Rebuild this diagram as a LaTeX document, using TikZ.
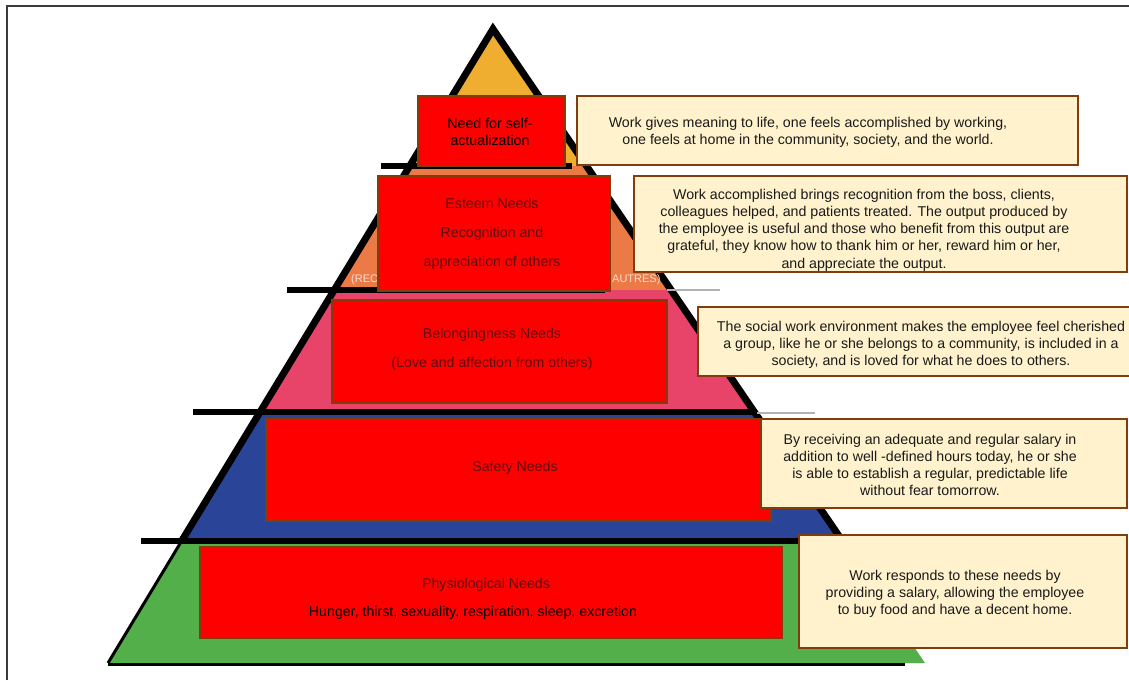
\documentclass[tikz,border=0pt]{standalone}
\usepackage{fontspec}
\setmainfont{Liberation Sans}
\definecolor{pyel}{RGB}{240,174,48}
\definecolor{porg}{RGB}{236,122,70}
\definecolor{ppink}{RGB}{232,67,104}
\definecolor{pblue}{RGB}{42,69,152}
\definecolor{pgreen}{RGB}{83,175,74}
\definecolor{pred}{RGB}{255,0,0}
\definecolor{brn}{RGB}{132,60,12}
\definecolor{cream}{RGB}{255,242,204}
\definecolor{dred}{RGB}{95,14,14}
\definecolor{frm}{RGB}{60,60,60}
\definecolor{fragc}{RGB}{250,218,205}
\begin{document}
\begin{tikzpicture}[x=1pt,y=-1pt,
  redbox/.style={draw=brn, line width=1.6pt, fill=pred, inner sep=0pt},
  creambox/.style={draw=brn, line width=1.8pt, fill=cream, inner sep=0pt},
  ctext/.style={font=\fontsize{14.2}{17.2}\selectfont, align=center, inner sep=0pt, text=black!90},
  rtext/.style={font=\fontsize{14.2}{16.5}\selectfont, align=center, inner sep=0pt, text=black},
  dtext/.style={font=\fontsize{14.2}{29}\selectfont, align=center, inner sep=0pt, text=dred},
  frag/.style={font=\fontsize{11}{11}\selectfont, inner sep=0pt, text=fragc, anchor=base west},
  divider/.style={line width=6.5pt},
  faint/.style={line width=1.5pt, draw=black!30},
  ]
\useasboundingbox (0,0) rectangle (1129,680);
\clip (0,0) rectangle (1129,680);
\fill[white] (0,0) rectangle (1129,680);
% frame
\coordinate (fTL) at (7,6);
\coordinate (fTR) at (1129,6);
\coordinate (fBL) at (7,680);
\draw[line width=1.5pt, draw=frm] (fBL) -- (fTL) -- (fTR);
% pyramid
\coordinate (apex) at (493,29);
\coordinate (pL) at (108,663);
\coordinate (pR) at (925,663);
\coordinate (lm) at (181.6,541);
\coordinate (rm) at (842.4,541);
\begin{scope}
  \clip (apex) -- (pL) -- (pR) -- cycle;
  \fill[pyel] (0,0) rectangle (1129,166);
  \fill[porg] (0,166) rectangle (1129,290);
  \fill[ppink] (0,290) rectangle (1129,411);
  \fill[pblue] (0,411) rectangle (1129,541);
  \fill[pgreen] (0,541) rectangle (1129,680);
\end{scope}
\draw[line width=7pt, line join=miter] (lm) -- (apex) -- (rm);
\draw[line width=3pt] (lm) -- (pL);
\draw[line width=3.5pt] ([yshift=-1.5pt]pL) -- ([yshift=-1.5pt,xshift=-20pt]pR);
% dividers
\coordinate (d1a) at (381,166); \coordinate (d1b) at (572,166);
\coordinate (d2a) at (287,290); \coordinate (d2b) at (605,290);
\coordinate (d3a) at (193,412); \coordinate (d3b) at (757,412);
\coordinate (d4a) at (141,541); \coordinate (d4b) at (835,541);
\draw[divider] (d1a) -- (d1b);
\draw[divider] (d2a) -- (d2b);
\draw[divider] (d3a) -- (d3b);
\draw[divider] (d4a) -- (d4b);
\coordinate (g2a) at (667,290); \coordinate (g2b) at (720,290);
\coordinate (g3a) at (757,413); \coordinate (g3b) at (815,413);
\draw[faint] (g2a) -- (g2b);
\draw[faint] (g3a) -- (g3b);
% fragments of hidden label
\node[frag] (rec) at (351,282) {(REC};
\node[frag] (autres) at (612,282) {AUTRES)};
% red boxes
\node[redbox, minimum width=147pt, minimum height=70pt] (r1) at (491.5,131) {};
\node[redbox, minimum width=232pt, minimum height=115pt] (r2) at (494,233.5) {};
\node[redbox, minimum width=335pt, minimum height=103pt] (r3) at (499.5,351.5) {};
\node[redbox, minimum width=505pt, minimum height=102pt] (r4) at (518.5,470) {};
\node[redbox, minimum width=582pt, minimum height=91pt] (r5) at (491,592.5) {};
\node[rtext] (t1) at (490,132) {Need for self-\\actualization};
\node[dtext] (t2) at (492,234) {Esteem Needs\\Recognition and\\appreciation of others};
\node[dtext] (t3) at (492,349.5) {Belongingness Needs\\(Love and affection from others)};
\node[dtext] (t4) at (515,468) {Safety Needs};
\node[dtext] (t5a) at (486,585) {Physiological Needs};
\node[rtext] (t5b) at (473,613) {Hunger, thirst, sexuality, respiration, sleep, excretion};
% cream boxes
\node[creambox, minimum width=501pt, minimum height=69pt] (c1) at (827.5,130.5) {};
\node[creambox, minimum width=493pt, minimum height=96pt] (c2) at (880.5,224) {};
\node[creambox, minimum width=462pt, minimum height=69pt] (c3) at (929,341.5) {};
\node[creambox, minimum width=366pt, minimum height=89pt] (c4) at (944,463.5) {};
\node[creambox, minimum width=328pt, minimum height=113pt] (c5) at (963,591.5) {};
\node[ctext] (k1) at (808,132.5) {Work gives meaning to life, one feels accomplished by working,\\one feels at home in the community, society, and the world.};
\begin{scope}
  \clip (635,177) rectangle (1126,270.5);
  \node[ctext] (k2) at (864,230) {Work accomplished brings recognition from the boss, clients,\\colleagues helped, and patients treated. The output produced by\\the employee is useful and those who benefit from this output are\\grateful, they know how to thank him or her, reward him or her,\\and appreciate the output.};
\end{scope}
\node[ctext] (k3) at (921,345) {The social work environment makes the employee feel cherished\\a group, like he or she belongs to a community, is included in a\\society, and is loved for what he does to others.};
\node[ctext] (k4) at (930,465) {By receiving an adequate and regular salary in\\addition to well -defined hours today, he or she\\is able to establish a regular, predictable life\\without fear tomorrow.};
\node[ctext] (k5) at (955,594) {Work responds to these needs by\\providing a salary, allowing the employee\\to buy food and have a decent home.};
\end{tikzpicture}
\end{document}
